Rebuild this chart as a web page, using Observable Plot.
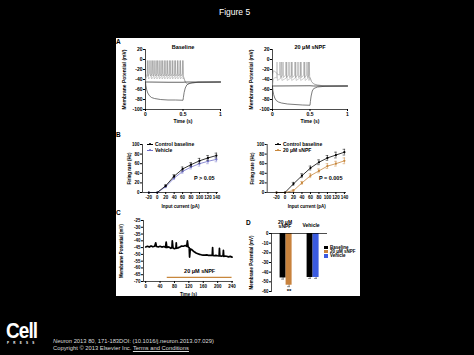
<!DOCTYPE html>
<html><head><meta charset="utf-8">
<script src="https://cdn.jsdelivr.net/npm/d3@7"></script>
<script src="https://cdn.jsdelivr.net/npm/@observablehq/plot@0.6"></script>
<style>
html,body{margin:0;padding:0;}
body{background:#000;width:474px;height:355px;overflow:hidden;position:relative;font-family:"Liberation Sans",Arial,Helvetica,sans-serif;}
.abs{position:absolute;white-space:nowrap;}
.k{color:#000;font-weight:bold;}
</style></head><body>
<div class="abs" style="left:219px;top:7px;color:#fff;font-size:8.5px;line-height:10px;">Figure 5</div>
<div class="abs" style="left:116px;top:38px;width:244px;height:258px;background:#fff;"></div>
<div class="abs k" style="left:116px;top:38px;font-size:6.5px;line-height:7px">A</div>
<div class="abs k" style="left:116px;top:131px;font-size:6.5px;line-height:7px">B</div>
<div class="abs k" style="left:116px;top:209px;font-size:6.5px;line-height:7px">C</div>
<div class="abs k" style="left:246px;top:219px;font-size:6.5px;line-height:7px">D</div>
<div class="abs" style="left:6px;top:321.5px;color:#fff;font-weight:bold;font-size:22px;line-height:18px;height:18px;letter-spacing:-1px;transform:scaleX(0.86);transform-origin:left top;">Cell</div>
<div class="abs" style="left:7px;top:342px;color:#fff;font-weight:bold;font-size:3px;line-height:3px;letter-spacing:4.3px;">PRESS</div>
<div class="abs" style="left:53px;top:338px;color:#ddd;font-size:5.8px;line-height:7.3px;"><i>Neuron</i> 2013 80, 171-183DOI: (10.1016/j.neuron.2013.07.029)<br>Copyright © 2013 Elsevier Inc. <span style="text-decoration:underline">Terms and Conditions</span></div>
<script>
// ---------- DATA ----------
// Panel A: membrane potential traces (time s, mV)
const aTicksX = [0, 0.5, 1];
const aTicksY = [-100, -80, -60, -40, -20, 0, 20];
const aTitles = ["Baseline", "20 μM sNPF"];
const aLeftRest = [[0,-45],[0.3,-45.5],[0.5,-45.5],[0.55,-45],[1,-45]];
const aLeftHyper = [[0,-45],[0.005,-52],[0.015,-60],[0.03,-67],[0.05,-72],[0.08,-76],[0.12,-78],[0.2,-80],[0.3,-81],[0.4,-81],[0.5,-81.5],[0.505,-76],[0.515,-66],[0.53,-57],[0.55,-51],[0.58,-48],[0.62,-46.5],[0.7,-45.5],[1,-45]];
const aLeftSpikeTimes1 = [0.025,0.058,0.092,0.126,0.16,0.194,0.228,0.262,0.296,0.33,0.364,0.398,0.432,0.466,0.5];
const aLeftSpikeTimes2 = [0.035,0.075,0.11,0.145,0.18,0.215,0.25,0.285,0.32,0.355,0.39,0.425,0.46,0.495];
const aLeftSpikePre = [[0,-45],[0.005,-36]];
const aLeftSpikePost = [[0.51,-36],[0.53,-45],[0.56,-49],[0.62,-47],[0.7,-45.5],[1,-45]];
const aLeftPeak = -2, aLeftTrough1 = -30, aLeftTrough2 = -36;

const aRightRest = [[0,-53],[0.5,-52.5],[0.55,-53],[1,-53]];
const aRightHyper = [[0,-53],[0.005,-62],[0.015,-70],[0.03,-77],[0.05,-82],[0.08,-85],[0.12,-87],[0.2,-89],[0.3,-90],[0.4,-91],[0.5,-91.5],[0.505,-84],[0.515,-73],[0.53,-63],[0.55,-58],[0.6,-55],[0.7,-53.5],[1,-53]];
const aRightSpikeTimes1 = [0.1,0.14,0.18,0.22,0.26,0.3,0.34,0.38,0.42,0.46,0.49];
const aRightSpikeTimes2 = [0.06,0.12,0.19,0.25,0.31,0.37,0.43,0.48];
const aRightSpikePre1 = [[0,-53],[0.005,-30],[0.015,-22],[0.03,-24],[0.05,-26],[0.07,-30]];
const aRightSpikePre2 = [[0,-53],[0.01,-40],[0.03,-36]];
const aRightSpikePost = [[0.5,-36],[0.52,-44],[0.55,-49],[0.6,-51],[0.7,-53],[1,-53]];
const aRightPeak = -5, aRightTrough1 = -33, aRightTrough2 = -39;

// Panel B: firing rate vs input current
const currents = [-20, 0, 20, 40, 60, 80, 100, 120, 140];
const rateTicks = [0, 20, 40, 60, 80, 100];
const bLeftControl = [0, 0, 14, 34, 49, 58, 66, 72, 77];
const bLeftControlErr = [0, 0, 2, 3, 4, 4, 5, 5, 5];
const bLeftVehicle = [0, 0, 12, 30, 44, 53, 60, 65, 69];
const bLeftVehicleErr = [0, 0, 2, 3, 4, 4, 5, 5, 5];
const bRightControl = [0, 0, 18, 35, 51, 63, 72, 78, 84];
const bRightControlErr = [0, 0, 3, 4, 4, 5, 5, 6, 6];
const bRightSnpf = [0, 0, 4, 20, 35, 45, 55, 60, 66];
const bRightSnpfErr = [0, 0, 2, 3, 4, 4, 5, 5, 6];
const bLegendLeft = ["Control baseline", "Vehicle"];
const bLegendRight = ["Control baseline", "20 μM sNPF"];
const bPText = ["P > 0.05", "P = 0.005"];

// Panel C: membrane potential over time
const cTicksX = [0, 40, 80, 120, 160, 200, 240];
const cTicksY = [-70, -65, -60, -55, -50, -45, -40, -35, -30, -25];
const cTrace = [[0,-44.5],[5,-44],[10,-44.6],[15,-43.8],[20,-44.4],[25,-44],[28,-41.5],[30,-44.2],[35,-44.5],[40,-44],[45,-44.6],[50,-44.2],[55,-44.8],[57,-41],[59,-45],[62,-44.5],[66,-44.8],[70,-45.5],[73,-45],[74,-40],[76,-45.3],[80,-45.8],[84,-45.5],[85,-41.5],[86,-45.5],[90,-45.2],[95,-44.6],[100,-43.8],[105,-44],[110,-43.5],[114,-44],[116,-40],[118,-44.5],[121,-45],[122,-52],[124,-46],[128,-46.5],[132,-47.5],[136,-48.3],[140,-49],[145,-49.5],[150,-50],[155,-50.3],[160,-50.5],[165,-50.6],[170,-50.4],[175,-50.8],[185,-50.5],[186,-45],[187,-50.8],[190,-51],[195,-50.7],[200,-51],[204,-51.2],[205,-45.5],[206,-51],[210,-51.3],[215,-51],[216,-47],[217,-51.5],[220,-51.2],[225,-51.4],[230,-51.8],[235,-51.5],[240,-52]];
const cBar = [{start: 60, end: 240, y: -67, label: "20 μM sNPF"}];

// Panel D: membrane potential bars
const dKeys = ["sNPF-Baseline", "sNPF-sNPF", "Vehicle-Baseline", "Vehicle-Vehicle"];
const dGroups = ["20 μM sNPF", "20 μM sNPF", "Vehicle", "Vehicle"];
const dValues = [-46, -53.5, -45.5, -45.5];
const dErr = [1.2, 1.5, 1, 1];
const dColors = ["#000000", "#c8823c", "#000000", "#3b5be0"];
const dSig = ["", "**", "", ""];
const dTicksY = [-60, -50, -40, -30, -20, -10, 0];
const dLegend = ["Baseline", "20 μM sNPF", "Vehicle"];
const dLegendColors = ["#000000", "#c8823c", "#3b5be0"];

const ORANGE = "#c8873c", VIOLET = "#7070c8";

// ---------- HELPERS ----------
const FONT = '"Liberation Sans", Arial, Helvetica, sans-serif';
const st = fs => `font-family:${FONT};font-size:${fs}px;font-weight:bold;background:transparent;overflow:visible;color:#000;`;
function place(el, left, top) {
  el.style.position = "absolute"; el.style.left = left + "px"; el.style.top = top + "px";
  el.style.maxWidth = "none";
  document.body.appendChild(el);
}
const toPts = arr => arr.map(([t, v]) => ({t, v}));
function spikeTrain(pre, times, peak, trough, post) {
  const p = [...pre];
  for (const t of times) p.push([t - 0.004, trough + 2], [t, peak], [t + 0.006, trough - 3]);
  p.push(...post);
  return toPts(p);
}
function div(html, css) {
  const d = document.createElement("div");
  d.className = "abs"; d.innerHTML = html; d.style.cssText += css;
  document.body.appendChild(d); return d;
}
function legendLine(x, y, color, text) {
  div("", `left:${x}px;top:${y - 0.4}px;width:6px;height:0.8px;background:${color};`);
  div("", `left:${x + 1.8}px;top:${y - 1.2}px;width:2.4px;height:2.4px;border-radius:50%;background:${color};`);
  div(text, `left:${x + 8}px;top:${y - 3}px;font-size:5px;line-height:6px;font-weight:bold;color:#000;`);
}

// ---------- PANEL A ----------
function traceChart(title, rest, hyper, sp1, sp2) {
  return Plot.plot({
    width: 110, height: 88, marginLeft: 25, marginRight: 10, marginTop: 11, marginBottom: 17,
    style: st(5),
    x: {domain: [0, 1], ticks: aTicksX, tickFormat: d => String(d), tickSize: 2, tickPadding: 1,
        label: "Time (s)", labelAnchor: "center", labelOffset: 13.5, labelArrow: "none"},
    y: {domain: [-100, 20], ticks: aTicksY, tickFormat: d => String(d), tickSize: 2, tickPadding: 1,
        label: "Membrane Potential (mV)", labelAnchor: "center", labelOffset: 23, labelArrow: "none"},
    marks: [
      Plot.ruleX([0], {stroke: "#000", strokeWidth: 0.7}),
      Plot.ruleY([-100], {stroke: "#000", strokeWidth: 0.7}),
      Plot.line(sp2, {x: "t", y: "v", stroke: "#a0a0a0", strokeWidth: 0.5}),
      Plot.line(sp1, {x: "t", y: "v", stroke: "#8a8a8a", strokeWidth: 0.5}),
      Plot.line(toPts(hyper), {x: "t", y: "v", stroke: "#444", strokeWidth: 0.7}),
      Plot.line(toPts(rest), {x: "t", y: "v", stroke: "#222", strokeWidth: 0.7}),
      Plot.text([title], {text: d => d, frameAnchor: "top", dy: -4, fontSize: 5.5, fontWeight: "bold"})
    ]
  });
}
place(traceChart(aTitles[0], aLeftRest, aLeftHyper,
  spikeTrain(aLeftSpikePre, aLeftSpikeTimes1, aLeftPeak, aLeftTrough1, aLeftSpikePost),
  spikeTrain(aLeftSpikePre, aLeftSpikeTimes2, aLeftPeak, aLeftTrough2, aLeftSpikePost)), 120, 38);
place(traceChart(aTitles[1], aRightRest, aRightHyper,
  spikeTrain(aRightSpikePre1, aRightSpikeTimes1, aRightPeak, aRightTrough1, aRightSpikePost),
  spikeTrain(aRightSpikePre2, aRightSpikeTimes2, aRightPeak, aRightTrough2, aRightSpikePost)), 247, 38);

// ---------- PANEL B ----------
function series(vals, errs, color) {
  const d = currents.map((x, i) => ({x, v: vals[i], e: errs[i]}));
  const de = d.filter(r => r.e > 0);
  return [
    Plot.line(d, {x: "x", y: "v", stroke: color, strokeWidth: 0.8}),
    Plot.ruleX(de, {x: "x", y1: r => r.v - r.e, y2: r => r.v + r.e, stroke: color, strokeWidth: 0.5}),
    Plot.ruleY(de, {y: r => r.v + r.e, x1: r => r.x - 3, x2: r => r.x + 3, stroke: color, strokeWidth: 0.5}),
    Plot.ruleY(de, {y: r => r.v - r.e, x1: r => r.x - 3, x2: r => r.x + 3, stroke: color, strokeWidth: 0.5}),
    Plot.dot(d, {x: "x", y: "v", fill: color, r: 1.1})
  ];
}
function rateChart(domainX, marginLeft, sA, sB, pText, yLabelOffset) {
  return Plot.plot({
    width: 110, height: 76, marginLeft, marginRight: 8, marginTop: 12, marginBottom: 16,
    style: st(4.5),
    x: {domain: domainX, ticks: currents, tickFormat: d => String(d), tickSize: 2, tickPadding: 1,
        label: "Input current (pA)", labelAnchor: "center", labelOffset: 15.5, labelArrow: "none"},
    y: {domain: [0, 100], ticks: rateTicks, tickFormat: d => String(d), tickSize: 2, tickPadding: 1,
        label: "Firing rate (Hz)", labelAnchor: "center", labelOffset: yLabelOffset, labelArrow: "none"},
    marks: [
      Plot.ruleX([domainX[0]], {stroke: "#000", strokeWidth: 0.7}),
      Plot.ruleY([0], {stroke: "#000", strokeWidth: 0.7}),
      ...sB, ...sA,
      Plot.text([pText], {text: d => d, frameAnchor: "bottom-right", textAnchor: "end", dx: -4, dy: -13, fontSize: 5.5, fontWeight: "bold"})
    ]
  });
}
place(rateChart([-35, 145], 26,
  series(bLeftControl, bLeftControlErr, "#000"),
  series(bLeftVehicle, bLeftVehicleErr, VIOLET), bPText[0], 14.5), 116, 132);
place(rateChart([-42, 145], 22.7,
  series(bRightControl, bRightControlErr, "#000"),
  series(bRightSnpf, bRightSnpfErr, ORANGE), bPText[1], 16), 244, 132);
legendLine(147, 144, "#000", bLegendLeft[0]);
legendLine(147, 150, VIOLET, bLegendLeft[1]);
legendLine(275, 144, "#000", bLegendRight[0]);
legendLine(275, 150, ORANGE, bLegendRight[1]);

// ---------- PANEL C ----------
place(Plot.plot({
  width: 121.4, height: 86, marginLeft: 27, marginRight: 4.4, marginTop: 10, marginBottom: 15,
  style: st(4.5),
  x: {domain: [-6, 244], ticks: cTicksX, tickFormat: d => String(d), tickSize: 2, tickPadding: 1,
      label: "Time (s)", labelAnchor: "center", labelOffset: 14.5, labelArrow: "none"},
  y: {domain: [-70, -25], ticks: cTicksY, tickFormat: d => String(d), tickSize: 2, tickPadding: 1,
      label: "Membrane Potential (mV)", labelAnchor: "center", labelOffset: 23.5, labelArrow: "none"},
  marks: [
    Plot.ruleX([-6], {stroke: "#000", strokeWidth: 0.7}),
    Plot.ruleY([-70], {stroke: "#000", strokeWidth: 0.7}),
    Plot.line(toPts(cTrace), {x: "t", y: "v", stroke: "#000", strokeWidth: 1.7}),
    Plot.ruleY(cBar, {x1: "start", x2: "end", y: "y", stroke: ORANGE, strokeWidth: 1.3}),
    Plot.text(cBar, {x: d => (d.start + d.end) / 2, y: "y", text: "label", dy: -6, fontSize: 5.5, fontWeight: "bold"})
  ]
}), 116, 210);

// ---------- PANEL D ----------
const dData = dKeys.map((key, i) => ({key, group: dGroups[i], value: dValues[i], err: dErr[i], color: dColors[i], sig: dSig[i]}));
const g1 = dData.filter(d => d.group === dGroups[0]);
const g2 = dData.filter(d => d.group === dGroups[2]);
function barMarks(g, dx) {
  return [
    Plot.ruleX(g, {x: "key", y1: d => d.value - d.err, y2: d => d.value + d.err, dx, stroke: "#000", strokeWidth: 0.5}),
    Plot.tickY(g, {x: "key", y: d => d.value - d.err, dx, inset: 1.6, stroke: "#000", strokeWidth: 0.5}),
    Plot.barY(g, {x: "key", y: "value", fill: "color", dx}),
    Plot.text(g.filter(d => d.sig), {x: "key", y: d => d.value - d.err, text: "sig", dx, dy: 4.5, fontSize: 6, fontWeight: "bold"})
  ];
}
place(Plot.plot({
  width: 92, height: 86, marginLeft: 35, marginRight: 1, marginTop: 23, marginBottom: 5,
  style: st(4.5),
  x: {domain: dKeys, paddingInner: 0, paddingOuter: 2.44, axis: null},
  y: {domain: [-60, 0], ticks: dTicksY, tickFormat: d => String(d), tickSize: 2, tickPadding: 1,
      label: "Membrane Potential (mV)", labelAnchor: "center", labelOffset: 21.5, labelArrow: "none"},
  color: {type: "identity"},
  marks: [
    Plot.frame({anchor: "left", stroke: "#000", strokeWidth: 0.7}),
    ...barMarks(g1, -7.4),
    ...barMarks(g2, 7.6),
    Plot.ruleY([0], {stroke: "#000", strokeWidth: 0.7})
  ]
}), 236, 210);
div("20 μM<br>sNPF", "left:277px;top:219.5px;font-size:5px;line-height:4.5px;font-weight:bold;color:#000;text-align:center;width:16px;");
div("Vehicle", "left:301px;top:222.5px;font-size:5px;line-height:5px;font-weight:bold;color:#000;text-align:center;width:20px;");
dLegend.forEach((t, i) => {
  const y = 247.5 + i * 4.2;
  div("", `left:324.3px;top:${y - 1.8}px;width:3.8px;height:3.6px;background:${dLegendColors[i]};`);
  div(t, `left:330px;top:${y - 2.6}px;font-size:4.5px;line-height:5px;font-weight:bold;color:#000;`);
});
</script>
</body></html>
